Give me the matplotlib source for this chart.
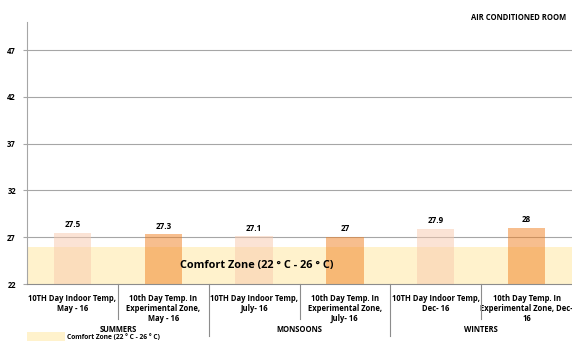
import matplotlib
matplotlib.use("Agg")
import matplotlib.pyplot as plt
import numpy as np

categories = [
    "10TH Day Indoor Temp,\nMay - 16",
    "10th Day Temp. In\nExperimental Zone,\nMay - 16",
    "10TH Day Indoor Temp,\nJuly- 16",
    "10th Day Temp. In\nExperimental Zone,\nJuly- 16",
    "10TH Day Indoor Temp,\nDec- 16",
    "10th Day Temp. In\nExperimental Zone, Dec-\n16",
]
seasons = ["SUMMERS", "MONSOONS", "WINTERS"]
temps = [27.5, 27.3, 27.1, 27.0, 27.9, 28.0]
temp_labels = ["27.5", "27.3", "27.1", "27", "27.9", "28"]
comfort_low = 22
comfort_high = [26, 26, 26, 26, 26, 26]
yticks = [22, 27, 32, 37, 42, 47]

FONT = ["Open Sans", "DejaVu Sans"]
plt.rcParams['font.family'] = FONT
plt.rcParams['font.weight'] = 'bold'


def main():
    fig = plt.figure(figsize=(5.72, 3.41), dpi=100)
    ax = fig.add_axes([27 / 572, 1 - 284 / 341, 1 - 27 / 572, 262 / 341])

    x = np.arange(len(categories))

    # comfort band behind the bars
    band = ax.bar(x, np.array(comfort_high) - comfort_low, bottom=comfort_low,
                  width=1.0, color="#FFF2CC", zorder=1,
                  label="Comfort Zone (22 \u00b0 C - 26 \u00b0 C)")

    colors = ["#F9C9AD", "#F17F1F"] * 3
    ax.bar(x, temps, width=0.41, color=colors, alpha=0.5, zorder=2)

    for xi, v, lab in zip(x, temps, temp_labels):
        ax.text(xi, v + 0.4, lab, ha="center", va="bottom", fontsize=5.8,
                fontweight="bold", zorder=4)

    ax.text(2.03, 24.0, "Comfort Zone (22 \u00b0 C - 26 \u00b0 C)", ha="center",
            va="center", fontsize=7.8, fontweight="bold", zorder=5)

    ax.set_xlim(-0.5, 5.5)
    ax.set_ylim(22, 50)
    ax.set_yticks(yticks)
    ax.set_yticklabels([str(t) for t in yticks], fontsize=5.5, fontweight="bold")
    ax.tick_params(axis="y", length=3, color="#A6A6A6", pad=5)
    ax.grid(axis="y", color="#A6A6A6", linewidth=0.8, zorder=0)
    ax.set_axisbelow(True)

    ax.set_xticks(x)
    ax.set_xticklabels(categories, fontsize=5.5, fontweight="bold",
                       linespacing=1.15, va="top")
    ax.tick_params(axis="x", length=0, pad=7)

    for s in ["top", "right"]:
        ax.spines[s].set_visible(False)
    ax.spines["left"].set_color("#A6A6A6")
    ax.spines["bottom"].set_color("#8C8C8C")

    # category separators below the axis
    for xs in [0.5, 2.5, 4.5]:
        ax.plot([xs, xs], [0, -0.134], color="#8C8C8C", linewidth=0.8,
                transform=ax.get_xaxis_transform(), clip_on=False)
    for xs in [1.5, 3.5]:
        ax.plot([xs, xs], [0, -0.198], color="#8C8C8C", linewidth=0.8,
                transform=ax.get_xaxis_transform(), clip_on=False)
    for i, s in enumerate(seasons):
        ax.text(2 * i + 0.5, -0.172, s, ha="center", va="center", fontsize=5.5,
                fontweight="bold", transform=ax.get_xaxis_transform())

    fig.text(566 / 572, 1 - 17 / 341, "AIR CONDITIONED ROOM", ha="right",
             va="center", fontsize=5.5, fontweight="bold")

    fig.legend(handles=[band], loc="lower left", bbox_to_anchor=(24 / 572, -4 / 341),
               fontsize=4.8, frameon=False, handlelength=5.8, handleheight=2.1,
               handletextpad=0.3, borderaxespad=0)

    fig.savefig("out.png", dpi=100)


if __name__ == "__main__":
    main()
